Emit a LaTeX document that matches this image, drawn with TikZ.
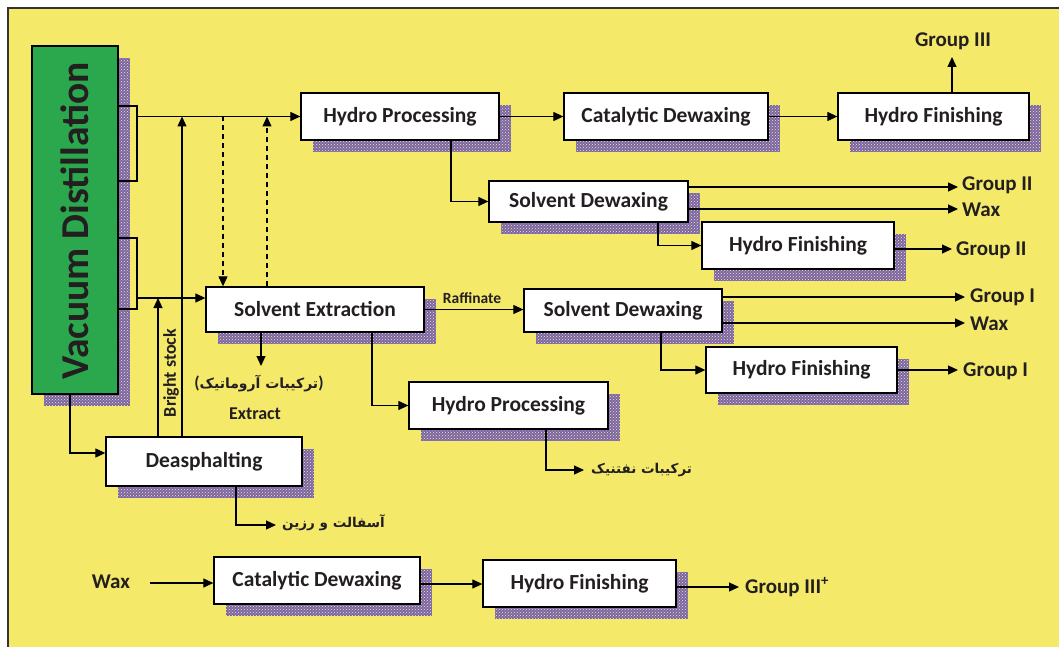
\documentclass[tikz,border=0pt]{standalone}
\usepackage{fontspec}
\setmainfont{Carlito}
\newfontfamily\arabicfont[Script=Arabic]{DejaVu Sans}
\TeXXeTstate=1
\usetikzlibrary{arrows.meta,patterns,calc}
\definecolor{bgyellow}{HTML}{F5E96A}
\definecolor{vdgreen}{HTML}{2BA84E}
\definecolor{shpurple}{HTML}{7A64AE}
\definecolor{txt}{HTML}{231F20}
\definecolor{framec}{HTML}{333333}
\newcommand\pbx[6]{%
  \path[shadowbox] (#2+12,#3+12) rectangle (#4+12,#5+12);
  \node[box, minimum width={#4pt-#2pt}, minimum height={#5pt-#3pt}] (#1) at ({(#2+#4)/2},{(#3+#5)/2}) {#6};
}
\begin{document}
\begin{tikzpicture}[x=1pt,y=-1pt,
  box/.style={draw=black, fill=white, line width=1.3pt, font=\fontsize{21.5}{24}\selectfont\bfseries, text=txt, inner sep=0pt},
  conn/.style={line width=1.2pt},
  arr/.style={conn, -{Triangle[length=10pt,width=9pt]}},
  lab/.style={font=\fontsize{21}{24}\selectfont\bfseries, text=txt, inner sep=0pt},
  fa/.style={font=\fontsize{13.5}{16}\selectfont\bfseries\arabicfont, text=txt, inner sep=0pt},
  shadowbox/.style={fill=shpurple, postaction={pattern=crosshatch dots, pattern color=bgyellow!80!white}}]
\useasboundingbox (0,0) rectangle (1059,647);
\fill[white] (0,0) rectangle (1059,647);
\fill[bgyellow] (8,8) rectangle (1059,647);
\draw[framec, line width=2.5pt] (8,647) -- (8,8) -- (1059,8);

% Vacuum distillation column
\path[shadowbox] (44,58) rectangle (130,406);
\node[draw=black, fill=vdgreen, line width=1.3pt, minimum width=86pt, minimum height=348pt, inner sep=0pt] (vd) at (75,220) {};
\node[rotate=90, font=\fontsize{39.5}{44}\selectfont\bfseries, text=txt] (vdt) at (75,221) {Vacuum Distillation};

% process boxes
\pbx{hp1}{301}{93}{499}{140}{Hydro Processing}
\pbx{cd1}{564}{93}{768}{140}{Catalytic Dewaxing}
\pbx{hf1}{838}{93}{1029}{140}{Hydro Finishing}
\pbx{sd1}{489}{181}{688}{222}{Solvent Dewaxing}
\pbx{hf2}{702}{222}{894}{269}{Hydro Finishing}
\pbx{se}{206}{287}{424}{332}{Solvent Extraction}
\pbx{sd2}{524}{289}{722}{332}{Solvent Dewaxing}
\pbx{hf3}{706}{347}{897}{393}{Hydro Finishing}
\pbx{hp2}{409}{382}{608}{429}{Hydro Processing}
\pbx{da}{106}{437}{302}{486}{Deasphalting}
\pbx{cd2}{214}{557}{420}{604}{Catalytic Dewaxing}
\pbx{hf4}{483}{560}{676}{607}{Hydro Finishing}

% junction coordinates
\coordinate (jA1) at (137,106);
\coordinate (jA2) at (137,181);
\coordinate (jA) at (137,116.5);
\coordinate (jB1) at (137,238);
\coordinate (jB2) at (137,309);
\coordinate (jB) at (137,298);
\coordinate (jV) at (70,453);
\coordinate (bs) at (158,298);
\coordinate (t1) at (182,116.5);
\coordinate (d1) at (223,116.5);
\coordinate (d2) at (267,116.5);
\coordinate (ex) at (261,366);
\coordinate (k1) at (372,0);
\coordinate (n1) at (546,470);
\coordinate (n2) at (584,470);
\coordinate (a1) at (236,525);
\coordinate (a2) at (276,525);
\coordinate (g3) at (952,57);
\coordinate (k2) at (451,0);
\coordinate (o1) at (958,187);
\coordinate (o2) at (958,209);
\coordinate (k3) at (658,0);
\coordinate (o3) at (952,249);
\coordinate (o4) at (965,297);
\coordinate (o5) at (965,323);
\coordinate (k4) at (661,0);
\coordinate (o6) at (958,370);
\coordinate (w0) at (150,583);
\coordinate (w1) at (0,584);
\coordinate (w2) at (739,587);

% distillation cuts
\draw[conn] (vd.east |- jA1) -- (jA1) -- (jA2) -- (vd.east |- jA2);
\draw[arr] (jA) -- (hp1.west);
\draw[conn] (vd.east |- jB1) -- (jB1) -- (jB2) -- (vd.east |- jB2);
\draw[arr] (jB) -- (jB -| se.west);
\draw[arr] (vd.south -| jV) -- (jV) -- (jV -| da.west);

% bright stock and recycle lines
\draw[arr] (bs |- da.north) -- (bs);
\node[lab, rotate=90, font=\fontsize{18}{21}\selectfont\bfseries] (bst) at (171,373) {Bright stock};
\draw[arr] (t1 |- da.north) -- (t1);
\draw[arr, dash pattern=on 5pt off 4pt] (d1) -- (d1 |- se.north);
\draw[arr, dash pattern=on 5pt off 4pt] (d2 |- se.north) -- (d2);

% solvent extraction outputs
\draw[arr] (ex |- se.south) -- (ex);
\node[lab, font=\fontsize{17}{20}\selectfont\bfseries] (arom) at (259,384) {({\fontsize{14}{17}\selectfont\arabicfont\beginR ترکیبات آروماتیک\endR})};
\node[lab, font=\fontsize{18}{21}\selectfont\bfseries] (extr) at (255,414) {Extract};
\draw[arr] (se.south -| k1) |- (hp2.west);
\draw[arr] (se.east) -- (se.east -| sd2.west);
\node[lab, font=\fontsize{15.5}{18}\selectfont\bfseries] (raff) at (472,298) {Raffinate};

\draw[arr] (hp2.south -| n1) -- (n1) -- (n2);
\node[fa, anchor=west] (naph) at (591,470) {\beginR ترکیبات نفتنیک\endR};
\draw[arr] (da.south -| a1) -- (a1) -- (a2);
\node[fa, anchor=west] (asph) at (282,523) {\beginR آسفالت و رزین\endR};

% top line
\draw[arr] (hp1.east) -- (cd1.west);
\draw[arr] (cd1.east) -- (hf1.west);
\draw[arr] (hf1.north -| g3) -- (g3);
\node[lab] (g3t) at (953,41) {Group III};

\draw[arr] (hp1.south -| k2) |- (sd1.west);
\draw[arr] (sd1.east |- o1) -- (o1);
\node[lab, anchor=west] (g2a) at (962,185) {Group II};
\draw[arr] (sd1.east |- o2) -- (o2);
\node[lab, anchor=west] (wx1) at (962,210) {Wax};
\draw[arr] (sd1.south -| k3) |- (hf2.west);
\draw[arr] (hf2.east |- o3) -- (o3);
\node[lab, anchor=west] (g2b) at (956,250) {Group II};

% second line
\draw[arr] (sd2.east |- o4) -- (o4);
\node[lab, anchor=west] (g1a) at (970,297) {Group I};
\draw[arr] (sd2.east |- o5) -- (o5);
\node[lab, anchor=west] (wx2) at (970,324) {Wax};
\draw[arr] (sd2.south -| k4) |- (hf3.west);
\draw[arr] (hf3.east |- o6) -- (o6);
\node[lab, anchor=west] (g1b) at (963,371) {Group I};

% bottom line
\node[lab] (wax) at (111,582) {Wax};
\draw[arr] (w0) -- (w0 -| cd2.west);
\draw[arr] (cd2.east |- w1) -- (hf4.west |- w1);
\draw[arr] (hf4.east |- w2) -- (w2);
\node[lab, anchor=west] (g3p) at (745,587) {Group III\textsuperscript{+}};
\end{tikzpicture}
\end{document}
